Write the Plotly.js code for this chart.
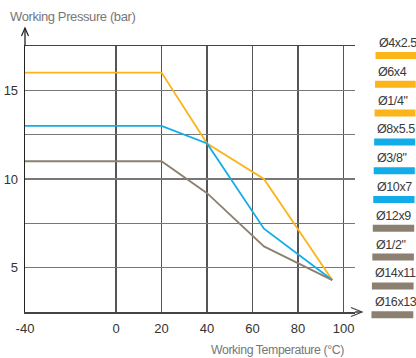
<!DOCTYPE html>
<html><head><meta charset="utf-8">
<script src="https://cdn.plot.ly/plotly-3.0.1.min.js"></script>
<style>html,body{margin:0;padding:0;background:#fff}#chart{width:416px;height:358px}
.annotation-text{letter-spacing:-0.4px}</style>
</head><body><div id="chart"></div>
<script>
// ---- data ----
var temps = [-40, 20, 40, 65, 95];
var pressOrange = [16, 16, 12, 10, 4.3];
var pressBlue = [13, 13, 12, 7.2, 4.3];
var pressGray = [11, 11, 9.2, 6.2, 4.3];
var seriesColors = ['#fbb41a', '#12ade8', '#8c8071'];
var xTicks = [-40, 0, 20, 40, 60, 80, 100];
var yTickVals = [2.5, 5, 7.5, 10, 12.5, 15, 17.5];
var yTickText = ['', '5', '', '10', '', '15', ''];
var legendLabels = ['Ø4x2.5', 'Ø6x4', 'Ø1/4"', 'Ø8x5.5', 'Ø3/8"', 'Ø10x7', 'Ø12x9', 'Ø1/2"', 'Ø14x11', 'Ø16x13'];
var legendGroup = [0, 0, 0, 1, 1, 1, 2, 2, 2, 2];

// ---- layout helpers ----
var W = 416, H = 358, L = 25, R = 61, T = 46, B = 46;
var pw = W - L - R, ph = H - T - B;
function px2x(p) { return (p - L) / pw; }
function px2y(p) { return (H - B - p) / ph; }
var sans = '"Liberation Sans", Arial, sans-serif';

var traces = [pressOrange, pressBlue, pressGray].map(function (ys, i) {
  return { x: temps, y: ys, type: 'scatter', mode: 'lines',
    line: { color: seriesColors[i], width: 1.8 }, hoverinfo: 'skip', showlegend: false };
});

var shapes = [], annotations = [];
// axis extensions and arrowheads
shapes.push({ type: 'line', xref: 'paper', yref: 'paper', x0: px2x(355), x1: px2x(362), y0: 0, y1: 0, line: { color: '#444', width: 1.5 } });
shapes.push({ type: 'path', xref: 'paper', yref: 'paper',
  path: 'M' + px2x(351) + ',' + px2y(307.5) + ' L' + px2x(362) + ',' + px2y(312) + ' L' + px2x(351) + ',' + px2y(316.5),
  line: { color: '#444', width: 1.2 } });
shapes.push({ type: 'line', xref: 'paper', yref: 'paper', x0: 0, x1: 0, y0: 1, y1: px2y(28), line: { color: '#222', width: 1.3 } });
shapes.push({ type: 'path', xref: 'paper', yref: 'paper',
  path: 'M' + px2x(21.5) + ',' + px2y(36) + ' L' + px2x(25) + ',' + px2y(28) + ' L' + px2x(28.5) + ',' + px2y(36),
  line: { color: '#222', width: 1.2 } });

// legend (text above colored bar)
legendLabels.forEach(function (lab, i) {
  var ty = 43 + 28.8 * i, by = 55.5 + 28.8 * i;
  annotations.push({ xref: 'paper', yref: 'paper', x: px2x(376.5 - i * 0.4), y: px2y(ty), text: lab,
    showarrow: false, xanchor: 'left', yanchor: 'middle',
    font: { family: sans, size: 12.5, color: '#3a3a3a' } });
  shapes.push({ type: 'rect', xref: 'paper', yref: 'paper', x0: px2x(375.5 - i * 0.45), x1: px2x(416 - i * 0.3),
    y0: px2y(by - 3.5), y1: px2y(by + 3.5), fillcolor: seriesColors[legendGroup[i]], line: { width: 0 } });
});

annotations.push({ xref: 'paper', yref: 'paper', x: px2x(8), y: px2y(17), text: 'Working Pressure (bar)',
  showarrow: false, xanchor: 'left', yanchor: 'middle', font: { family: sans, size: 13, color: '#777' } });
annotations.push({ xref: 'paper', yref: 'paper', x: px2x(346), y: px2y(350), text: 'Working Temperature (°C)',
  showarrow: false, xanchor: 'right', yanchor: 'middle', font: { family: sans, size: 12.3, color: '#777' } });

var layout = {
  width: W, height: H, margin: { l: L, r: R, t: T, b: B, pad: 0 },
  paper_bgcolor: '#fff', plot_bgcolor: '#fff', showlegend: false,
  font: { family: sans, size: 13, color: '#333' },
  xaxis: { range: [-40, 105], tickmode: 'array', tickvals: xTicks, ticktext: xTicks.map(String),
    showgrid: true, gridcolor: '#555', gridwidth: 1.3, zeroline: false,
    showline: true, linecolor: '#444', linewidth: 1.5, mirror: true,
    ticks: 'outside', ticklen: 4, tickcolor: 'rgba(0,0,0,0)', fixedrange: true,
    tickfont: { size: 13, color: '#333' } },
  yaxis: { range: [2.5, 17.5], tickmode: 'array', tickvals: yTickVals, ticktext: yTickText,
    showgrid: true, gridcolor: '#777', gridwidth: 1.3, zeroline: false,
    showline: true, linecolor: '#222', linewidth: 1.3,
    ticks: 'outside', ticklen: 3, tickcolor: 'rgba(0,0,0,0)', fixedrange: true,
    tickfont: { size: 13, color: '#333' } },
  shapes: shapes, annotations: annotations
};
Plotly.newPlot('chart', traces, layout, { displayModeBar: false, staticPlot: true });
</script></body></html>
